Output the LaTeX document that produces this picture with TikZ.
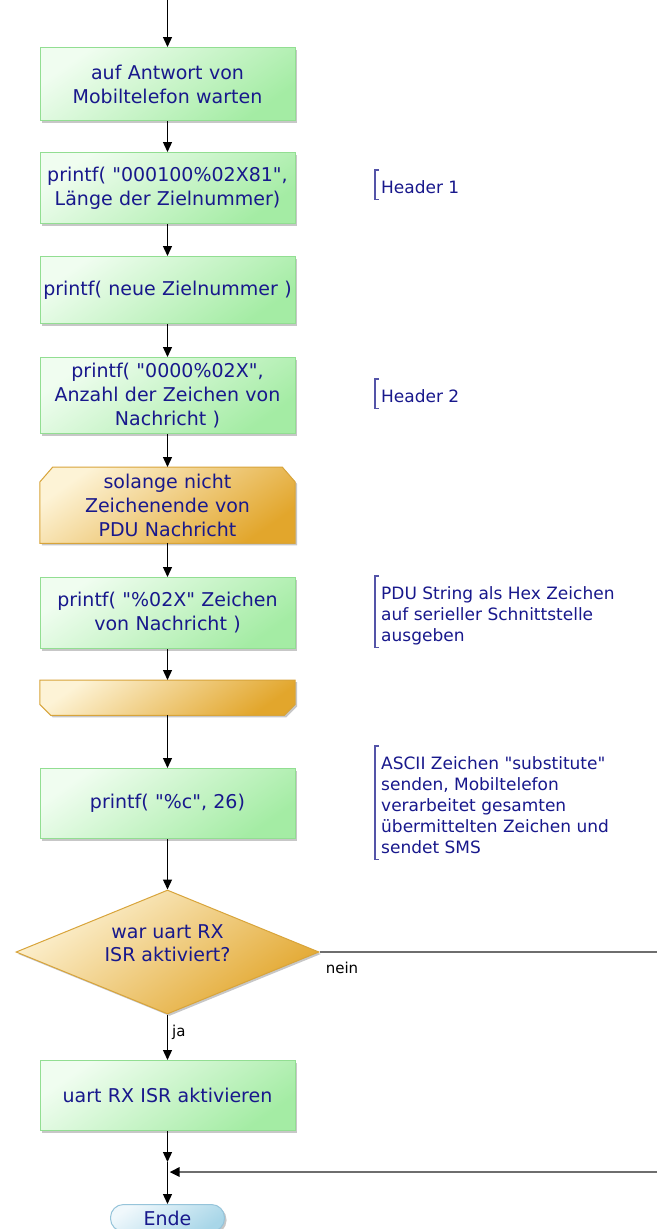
\documentclass[tikz,border=0pt]{standalone}
\usepackage{fontspec}
\setmainfont{DejaVu Sans}[Ligatures=TeXOff]
\usetikzlibrary{arrows.meta,shapes.geometric,shadows,calc}
\pgfdeclarelayer{background}
\pgfsetlayers{background,main}

\definecolor{txtblue}{RGB}{24,24,140}
\definecolor{greenA}{RGB}{240,253,240}
\definecolor{greenB}{RGB}{164,236,164}
\definecolor{greenE}{RGB}{146,222,146}
\definecolor{goldA}{RGB}{253,243,214}
\definecolor{goldB}{RGB}{226,166,44}
\definecolor{goldE}{RGB}{216,164,58}
\definecolor{blueA}{RGB}{240,248,252}
\definecolor{blueB}{RGB}{168,214,232}
\definecolor{blueE}{RGB}{150,196,218}
\definecolor{notecol}{RGB}{84,84,168}
\definecolor{flowgray}{RGB}{110,110,110}

\begin{document}
\begin{tikzpicture}[x=1pt,y=-1pt,
  boxshadow/.style={drop shadow={shadow xshift=2pt,shadow yshift=-2pt,opacity=0.22,fill=black}},
  boxfont/.style={font=\fontsize{19}{24}\selectfont, text=txtblue},
  action/.style={rectangle, draw=greenE, line width=1pt,
    top color=greenA, bottom color=greenB, shading angle=35,
    minimum width=255pt, text width=250pt, align=center, inner sep=2pt,
    boxshadow, boxfont, anchor=north},
  loopnode/.style={rectangle, minimum width=255pt, text width=250pt, align=center,
    inner sep=2pt, boxfont, anchor=north},
  loopfill/.style={draw=goldE, line width=1pt, top color=goldA, bottom color=goldB,
    shading angle=35, boxshadow},
  decision/.style={diamond, aspect=2.44, draw=goldE, line width=1pt, top color=goldA, bottom color=goldB,
    shading angle=35, minimum width=303pt, minimum height=124pt, inner sep=-12pt,
    align=center, boxshadow, boxfont, font=\fontsize{19}{23}\selectfont},
  terminal/.style={rectangle, rounded corners=13pt, draw=blueE, line width=1pt,
    top color=blueA, bottom color=blueB, shading angle=35, minimum width=114pt,
    minimum height=27pt, inner sep=0pt, boxshadow, boxfont, anchor=north},
  note/.style={align=left, anchor=north west, inner xsep=6pt, inner ysep=2pt,
    text depth=4pt, font=\fontsize{17}{21}\selectfont, text=txtblue},
  bracket/.style={draw=notecol, line width=1.6pt},
  tip/.style={-{Triangle[width=9pt,length=10pt,color=black]}},
  arr/.style={draw=black, line width=1.3pt, tip},
  flow/.style={draw=black, line width=1.3pt},
  back/.style={draw=flowgray, line width=2.6pt},
  lbl/.style={font=\fontsize{15}{18}\selectfont, text=black, inner sep=0pt}
]
\useasboundingbox (0,0) rectangle (657,1229);
\begin{pgfonlayer}{background}
  \fill[white] (0,0) rectangle (657,1229);
\end{pgfonlayer}

% main column
\coordinate (top) at (167.5,0);
\node[action, minimum height=73pt] (b1) at (167.5,47) {auf Antwort von\\Mobiltelefon warten};
\node[action, minimum height=71pt] (b2) at (167.5,152) {printf( "000100\%02X81",\\Länge der Zielnummer)};
\node[action, minimum height=67pt] (b3) at (167.5,256) {printf( neue Zielnummer )};
\node[action, minimum height=76pt] (b4) at (167.5,357) {printf( "0000\%02X",\\Anzahl der Zeichen von\\Nachricht )};

% loop head
\node[loopnode, minimum height=76pt] (ls) at (167.5,467) {solange nicht\\Zeichenende von\\PDU Nachricht};
\begin{pgfonlayer}{background}
  \path[loopfill] (ls.south west) -- ($(ls.north west)+(0,15)$) -- ($(ls.north west)+(13,0)$)
    -- ($(ls.north east)+(-13,0)$) -- ($(ls.north east)+(0,15)$) -- (ls.south east) -- cycle;
\end{pgfonlayer}

\node[action, minimum height=71pt] (b5) at (167.5,577) {printf( "\%02X" Zeichen\\von Nachricht )};

% loop foot
\node[loopnode, minimum height=35pt] (le) at (167.5,680) {};
\begin{pgfonlayer}{background}
  \path[loopfill] (le.north west) -- (le.north east) -- ($(le.south east)+(0,-11)$)
    -- ($(le.south east)+(-11,0)$) -- ($(le.south west)+(11,0)$) -- ($(le.south west)+(0,-11)$) -- cycle;
\end{pgfonlayer}

\node[action, minimum height=70pt] (b6) at (167.5,768) {printf( "\%c", 26)};

\node[decision, text depth=18pt] (d) at (167.5,952) {war uart RX\\ISR aktiviert?};

\node[action, minimum height=70pt] (b7) at (167.5,1060) {uart RX ISR aktivieren};

\coordinate (mtop) at (167.5,1162);
\coordinate (m) at (167.5,1172);
\coordinate (rout) at (657,952);
\coordinate (rin) at (657,1172);

\node[terminal] (end) at (167.5,1204) {Ende};

% connectors
\draw[arr] (top) -- (b1.north);
\draw[arr] (b1.south) -- (b2.north);
\draw[arr] (b2.south) -- (b3.north);
\draw[arr] (b3.south) -- (b4.north);
\draw[arr] (b4.south) -- (ls.north);
\draw[arr] (ls.south) -- (b5.north);
\draw[arr] (b5.south) -- (le.north);
\draw[arr] (le.south) -- (b6.north);
\draw[arr] (b6.south) -- (d.north);
\draw[arr] (d.south) -- node[lbl, pos=0.4, anchor=west, xshift=4pt] {ja} (b7.north);
\draw[back] (d.east) -- node[lbl, pos=0, anchor=north west, xshift=5pt, yshift=-9pt] {nein} (rout);
\draw[arr] (b7.south) -- (mtop);
\draw[flow] (mtop) -- (m);
\draw[back, tip, shorten >=2pt] (rin) -- (m);
\draw[arr] (m) -- (end.north);

% side notes
\node[note] (n1) at (375,178) {Header 1};
\node[note] (n2) at (375,387) {Header 2};
\node[note] (n3) at (375,584) {PDU String als Hex Zeichen\\auf serieller Schnittstelle\\ausgeben};
\node[note] (n4) at (375,754) {ASCII Zeichen "substitute"\\senden, Mobiltelefon\\verarbeitet gesamten\\übermittelten Zeichen und\\sendet SMS};
\foreach \n in {n1,n2,n3,n4}{
  \draw[bracket] ($(\n.north west)+(4,-8)$) -- ($(\n.north west)+(0,-8)$) -- (\n.south west) -- ($(\n.south west)+(4,0)$);
}
\end{tikzpicture}
\end{document}
